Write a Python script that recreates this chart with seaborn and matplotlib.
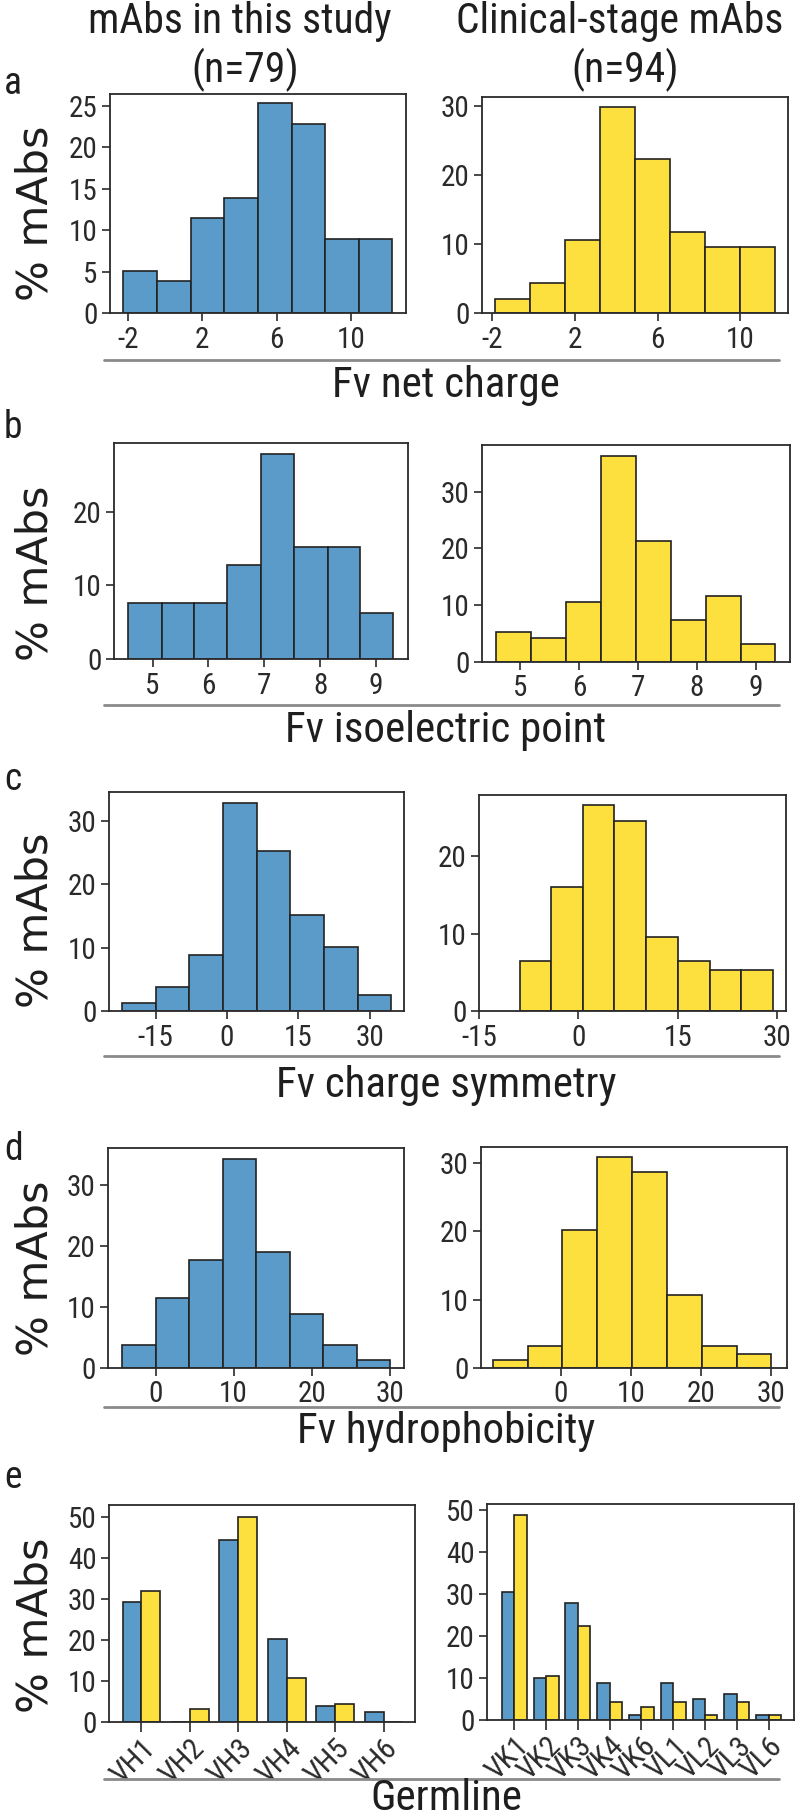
import numpy as np
import pandas as pd
import matplotlib
matplotlib.use('Agg')
import matplotlib.pyplot as plt
from matplotlib.lines import Line2D
from matplotlib import font_manager
import seaborn as sns

# ==========================================
# Data (percent of mAbs)
# ==========================================
BLUE = '#5a9bc9'
YELLOW = '#fde03e'

# a. Fv net charge
charge_edges_study = [-2.28, -0.43, 1.37, 3.19, 4.99, 6.81, 8.6, 10.43, 12.23]
charge_pct_study = [5.1, 3.8, 11.4, 13.9, 25.3, 22.8, 8.9, 8.9]
charge_edges_clin = [-1.85, -0.16, 1.52, 3.21, 4.9, 6.59, 8.28, 9.97, 11.66]
charge_pct_clin = [2.1, 4.3, 10.6, 29.8, 22.3, 11.7, 9.6, 9.6]

# b. Fv isoelectric point
pi_edges_study = [4.56, 5.165, 5.74, 6.34, 6.945, 7.53, 8.13, 8.72, 9.31]
pi_pct_study = [7.6, 7.6, 7.6, 12.7, 27.8, 15.2, 15.2, 6.3]
pi_edges_clin = [4.59, 5.18, 5.78, 6.37, 6.97, 7.56, 8.15, 8.75, 9.32]
pi_pct_clin = [5.3, 4.3, 10.6, 36.2, 21.3, 7.4, 11.7, 3.2]

# c. Fv charge symmetry
sym_edges_study = [-22.1, -15.0, -7.9, -0.86, 6.24, 13.24, 20.35, 27.45, 34.4]
sym_pct_study = [1.3, 3.8, 8.9, 32.9, 25.3, 15.2, 10.1, 2.5]
sym_edges_clin = [-8.88, -4.19, 0.62, 5.35, 10.16, 15.0, 19.8, 24.5, 29.4]
sym_pct_clin = [6.4, 16.0, 26.6, 24.5, 9.6, 6.4, 5.3, 5.3]

# d. Fv hydrophobicity
hyd_edges_study = [-4.33, 0.0, 4.27, 8.6, 12.87, 17.2, 21.47, 25.8, 30.07]
hyd_pct_study = [3.8, 11.4, 17.7, 34.2, 19.0, 8.9, 3.8, 1.3]
hyd_edges_clin = [-9.7, -4.74, 0.22, 5.2, 10.2, 15.2, 20.2, 25.1, 30.07]
hyd_pct_clin = [1.1, 3.2, 20.2, 30.9, 28.7, 10.6, 3.2, 2.1]

# e. Germline
vh_genes = ['VH1', 'VH2', 'VH3', 'VH4', 'VH5', 'VH6']
vh_pct_study = [29.1, 0.0, 44.3, 20.3, 3.8, 2.5]
vh_pct_clin = [31.9, 3.2, 50.0, 10.6, 4.3, 0.0]
vl_genes = ['VK1', 'VK2', 'VK3', 'VK4', 'VK6', 'VL1', 'VL2', 'VL3', 'VL6']
vl_pct_study = [30.4, 10.1, 27.8, 8.9, 1.3, 8.9, 5.1, 6.3, 1.3]
vl_pct_clin = [48.9, 10.6, 22.3, 4.3, 3.2, 4.3, 1.1, 4.3, 1.1]

# ==========================================
# Figure setup
# ==========================================
sns.set_style('ticks')
installed = {f.name for f in font_manager.fontManager.ttflist}
if 'Roboto Condensed' in installed:
    plt.rcParams['font.family'] = ['Roboto Condensed', 'DejaVu Sans']
    FS_TITLE, FS_TICK, FS_ROT, FS_LAB = 30, 21, 21.5, 31
else:
    plt.rcParams['font.family'] = ['Lato', 'DejaVu Sans']
    FS_TITLE, FS_TICK, FS_ROT, FS_LAB = 26, 19, 18, 28
plt.rcParams['axes.unicode_minus'] = False
plt.rcParams['axes.edgecolor'] = '#2a2a2a'
plt.rcParams['axes.linewidth'] = 1.3
plt.rcParams['xtick.color'] = '#2a2a2a'
plt.rcParams['ytick.color'] = '#2a2a2a'
plt.rcParams['text.color'] = '#1e1e1e'

W, H = 800, 1816
fig = plt.figure(figsize=(W / 100, H / 100), dpi=100)


def px_axes(x0, x1, y0, y1):
    return fig.add_axes([x0 / W, 1 - y1 / H, (x1 - x0) / W, (y1 - y0) / H])


def px_text(x, y, s, **kw):
    fig.text(x / W, 1 - y / H, s, **kw)


def style(ax, xlim, ylim, xticks, yticks):
    ax.set_xlim(xlim)
    ax.set_ylim(ylim)
    ax.set_xticks(list(xticks))
    ax.set_yticks(yticks)
    ax.set_xlabel('')
    ax.set_ylabel('')
    for s in ax.spines.values():
        s.set_visible(True)
    ax.tick_params(direction='out', length=6, width=1.2, labelsize=FS_TICK, pad=3)


def hist_panel(ax, edges, pct, color):
    centers = [(a + b) / 2 for a, b in zip(edges[:-1], edges[1:])]
    df = pd.DataFrame({'x': centers, 'w': pct})
    sns.histplot(data=df, x='x', weights='w', bins=list(edges), color=color,
                 alpha=1, edgecolor='#222222', linewidth=1.2, ax=ax)


# a
ax = px_axes(110, 406, 94, 313)
hist_panel(ax, charge_edges_study, charge_pct_study, BLUE)
style(ax, (-2.97, 12.97), (0, 26.4), [-2, 2, 6, 10], [0, 5, 10, 15, 20, 25])
ax = px_axes(482, 788, 97, 313)
hist_panel(ax, charge_edges_clin, charge_pct_clin, YELLOW)
style(ax, (-2.5, 12.3), (0, 31.3), [-2, 2, 6, 10], [0, 10, 20, 30])

# b
ax = px_axes(114, 408, 443, 659)
hist_panel(ax, pi_edges_study, pi_pct_study, BLUE)
style(ax, (4.31, 9.57), (0, 29.3), [5, 6, 7, 8, 9], [0, 10, 20])
ax = px_axes(482, 790, 445, 662)
hist_panel(ax, pi_edges_clin, pi_pct_clin, YELLOW)
style(ax, (4.35, 9.58), (0, 38.2), [5, 6, 7, 8, 9], [0, 10, 20, 30])

# c
ax = px_axes(109, 404, 792, 1011)
hist_panel(ax, sym_edges_study, sym_pct_study, BLUE)
style(ax, (-24.8, 37.2), (0, 34.6), [-15, 0, 15, 30], [0, 10, 20, 30])
ax = px_axes(479, 786, 795, 1011)
hist_panel(ax, sym_edges_clin, sym_pct_clin, YELLOW)
style(ax, (-15, 31.3), (0, 27.9), [-15, 0, 15, 30], [0, 10, 20])

# d
ax = px_axes(108, 404, 1148, 1368)
hist_panel(ax, hyd_edges_study, hyd_pct_study, BLUE)
style(ax, (-6.1, 31.85), (0, 36.0), [0, 10, 20, 30], [0, 10, 20, 30])
ax = px_axes(481, 787, 1147, 1368)
hist_panel(ax, hyd_edges_clin, hyd_pct_clin, YELLOW)
style(ax, (-11.4, 32.3), (0, 32.3), [0, 10, 20, 30], [0, 10, 20, 30])


# e
def germ_panel(ax, genes, study, clin):
    df = pd.DataFrame({
        'gene': genes * 2,
        'pct': study + clin,
        'group': ['study'] * len(genes) + ['clinical'] * len(genes),
    })
    sns.barplot(data=df, x='gene', y='pct', hue='group', palette=[BLUE, YELLOW],
                width=0.78, edgecolor='#222222', linewidth=1.2, saturation=1,
                legend=False, ax=ax)


ax = px_axes(109, 415, 1505, 1722)
germ_panel(ax, vh_genes, vh_pct_study, vh_pct_clin)
style(ax, (-0.67, 5.65), (0, 52.8), range(len(vh_genes)), [0, 10, 20, 30, 40, 50])
ax.tick_params(axis='x', length=7.5, pad=1)
ax.set_xticklabels(vh_genes, rotation=45, ha='right', rotation_mode='anchor', fontsize=FS_ROT)

ax = px_axes(487, 794, 1504, 1720)
germ_panel(ax, vl_genes, vl_pct_study, vl_pct_clin)
style(ax, (-0.86, 8.8), (0, 51.5), range(len(vl_genes)), [0, 10, 20, 30, 40, 50])
ax.tick_params(axis='x', length=7.5, pad=1)
ax.set_xticklabels(vl_genes, rotation=45, ha='right', rotation_mode='anchor', fontsize=FS_ROT)

# ==========================================
# Shared texts and separators
# ==========================================
px_text(240, 22, 'mAbs in this study', ha='center', va='center', fontsize=FS_TITLE)
px_text(245, 70, '(n=79)', ha='center', va='center', fontsize=FS_TITLE)
px_text(620, 22, 'Clinical-stage mAbs', ha='center', va='center', fontsize=FS_TITLE)
px_text(625, 70, '(n=94)', ha='center', va='center', fontsize=FS_TITLE)

for letter, y in zip('abcde', [84, 428, 780, 1150, 1478]):
    px_text(4, y, letter, ha='left', va='center', fontsize=27)

for y in [213, 573, 920, 1268, 1625]:
    px_text(36, y, '% mAbs', ha='center', va='center', rotation=90,
            fontsize=31, family='DejaVu Sans')

xlabels = ['Fv net charge', 'Fv isoelectric point', 'Fv charge symmetry',
           'Fv hydrophobicity', 'Germline']
for lab, y_line, y_txt in zip(xlabels, [360, 705, 1056, 1407, 1779],
                              [385, 731, 1085, 1432, 1799]):
    fig.add_artist(Line2D([104 / W, 779 / W], [1 - y_line / H] * 2,
                          color='#8a8a8a', lw=2))
    px_text(446, y_txt, lab, ha='center', va='center', fontsize=FS_LAB)

fig.savefig('out.png', dpi=100)
